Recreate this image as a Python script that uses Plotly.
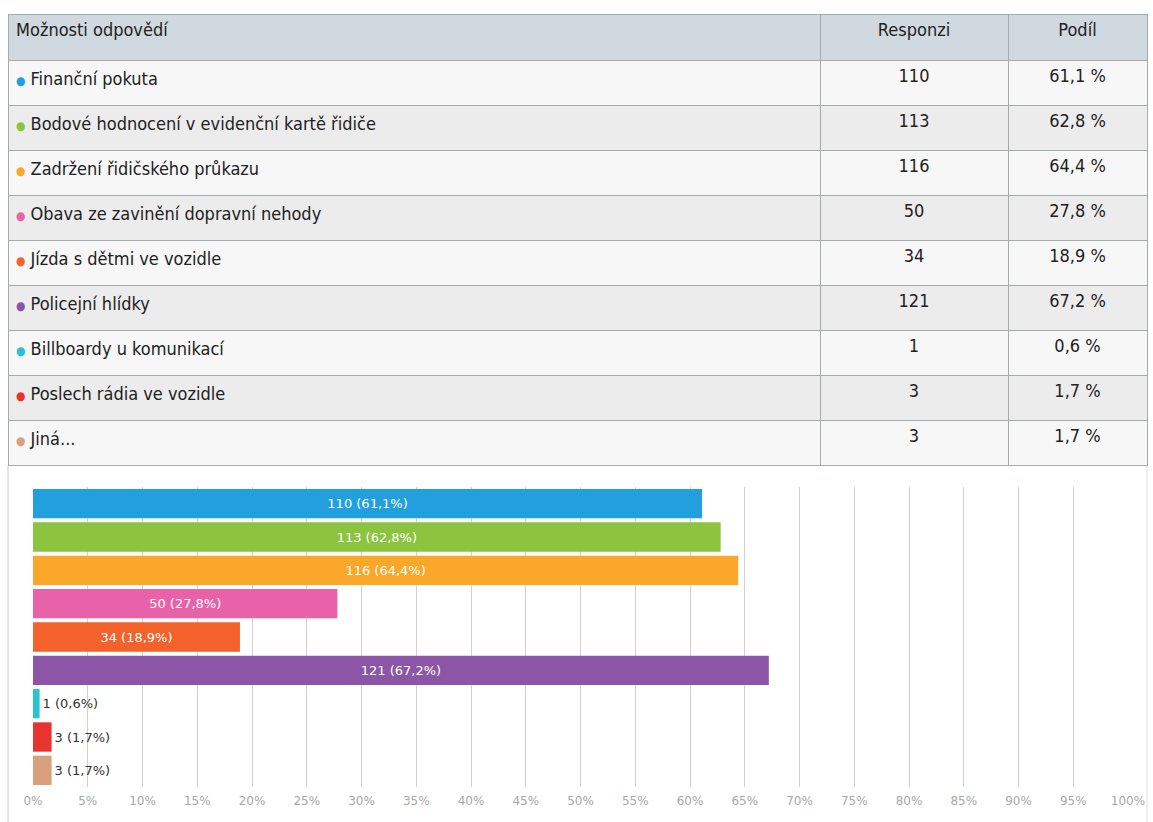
import plotly.graph_objects as go

# Survey answers
options = [
    "Finanční pokuta",
    "Bodové hodnocení v evidenční kartě řidiče",
    "Zadržení řidičského průkazu",
    "Obava ze zavinění dopravní nehody",
    "Jízda s dětmi ve vozidle",
    "Policejní hlídky",
    "Billboardy u komunikací",
    "Poslech rádia ve vozidle",
    "Jiná...",
]
responses = [110, 113, 116, 50, 34, 121, 1, 3, 3]
shares = [61.1, 62.8, 64.4, 27.8, 18.9, 67.2, 0.6, 1.7, 1.7]
colors = ["#22a0dd", "#8cc43f", "#fba72a", "#e862aa", "#f2622a",
          "#8d55a8", "#28c4cf", "#e8342f", "#d9a07c"]
tick_vals = list(range(0, 101, 5))
tick_text = [f"{v}%" for v in tick_vals]

W, H = 1153, 822


def fmt(v):
    return f"{v:.1f}".replace(".", ",")


# ---- table ----
first_col = [f"<span style='color:{c};font-size:12px'>●</span> {o}" for o, c in zip(options, colors)]
resp_col = [str(r) for r in responses]
share_col = [f"{fmt(s)} %" for s in shares]
row_fill = ["#f7f7f7" if i % 2 == 0 else "#ececec" for i in range(len(options))]

table_font = "DejaVu Sans Condensed, Liberation Sans Narrow, Roboto, sans-serif"

fig = go.Figure()
fig.add_trace(go.Table(
    domain=dict(x=[8 / W, 1147 / W], y=[1 - 466 / H, 1 - 14 / H]),
    columnwidth=[812, 188, 139],
    header=dict(
        values=["Možnosti odpovědí", "Responzi", "Podíl"],
        align=["left", "center", "center"],
        fill_color="#d0d9e0",
        line_color="#a3abab",
        height=46,
        font=dict(family=table_font, size=18, color="#222222"),
    ),
    cells=dict(
        values=[first_col, resp_col, share_col],
        align=["left", "center", "center"],
        fill_color=[row_fill, row_fill, row_fill],
        line_color="#a3abab",
        height=45,
        font=dict(family=table_font, size=18, color="#222222"),
    ),
))

# ---- bar chart ----
labels = [f"{r} ({fmt(s)}%)" for r, s in zip(responses, shares)]
positions = ["inside" if s > 10 else "outside" for s in shares]
fig.add_trace(go.Bar(
    x=shares,
    y=options,
    orientation="h",
    marker=dict(color=colors, line=dict(width=0)),
    text=labels,
    textposition=positions,
    insidetextanchor="middle",
    textangle=0,
    insidetextfont=dict(family="DejaVu Sans, sans-serif", size=13, color="#ffffff"),
    outsidetextfont=dict(family="DejaVu Sans, sans-serif", size=13, color="#333333"),
    cliponaxis=False,
    hoverinfo="skip",
))

fig.update_layout(
    width=W,
    height=H,
    margin=dict(l=0, r=0, t=0, b=0, autoexpand=False),
    paper_bgcolor="#ffffff",
    plot_bgcolor="#ffffff",
    showlegend=False,
    bargap=0.12,
    uniformtext=dict(mode=False),
    xaxis=dict(
        domain=[33 / W, 1128 / W],
        range=[0, 100],
        tickvals=tick_vals,
        ticktext=tick_text,
        tickfont=dict(family="DejaVu Sans, sans-serif", size=12, color="#a8a8a8"),
        showgrid=True,
        gridcolor="#d2d2d2",
        gridwidth=1,
        zeroline=False,
        showline=False,
        ticks="outside",
        ticklen=3,
        tickcolor="#ffffff",
        automargin=False,
        fixedrange=True,
    ),
    yaxis=dict(
        domain=[1 - 787 / H, 1 - 487 / H],
        autorange="reversed",
        showticklabels=False,
        showgrid=False,
        zeroline=False,
        showline=False,
        ticks="",
        automargin=False,
        fixedrange=True,
    ),
    shapes=[
        dict(type="line", xref="paper", yref="paper",
             x0=8 / W, x1=8 / W, y0=0, y1=1 - 466 / H,
             line=dict(color="#c8c8c8", width=1)),
        dict(type="line", xref="paper", yref="paper",
             x0=1147 / W, x1=1147 / W, y0=0, y1=1 - 466 / H,
             line=dict(color="#e0e0e0", width=1)),
    ],
)

fig.write_html("out.html")
